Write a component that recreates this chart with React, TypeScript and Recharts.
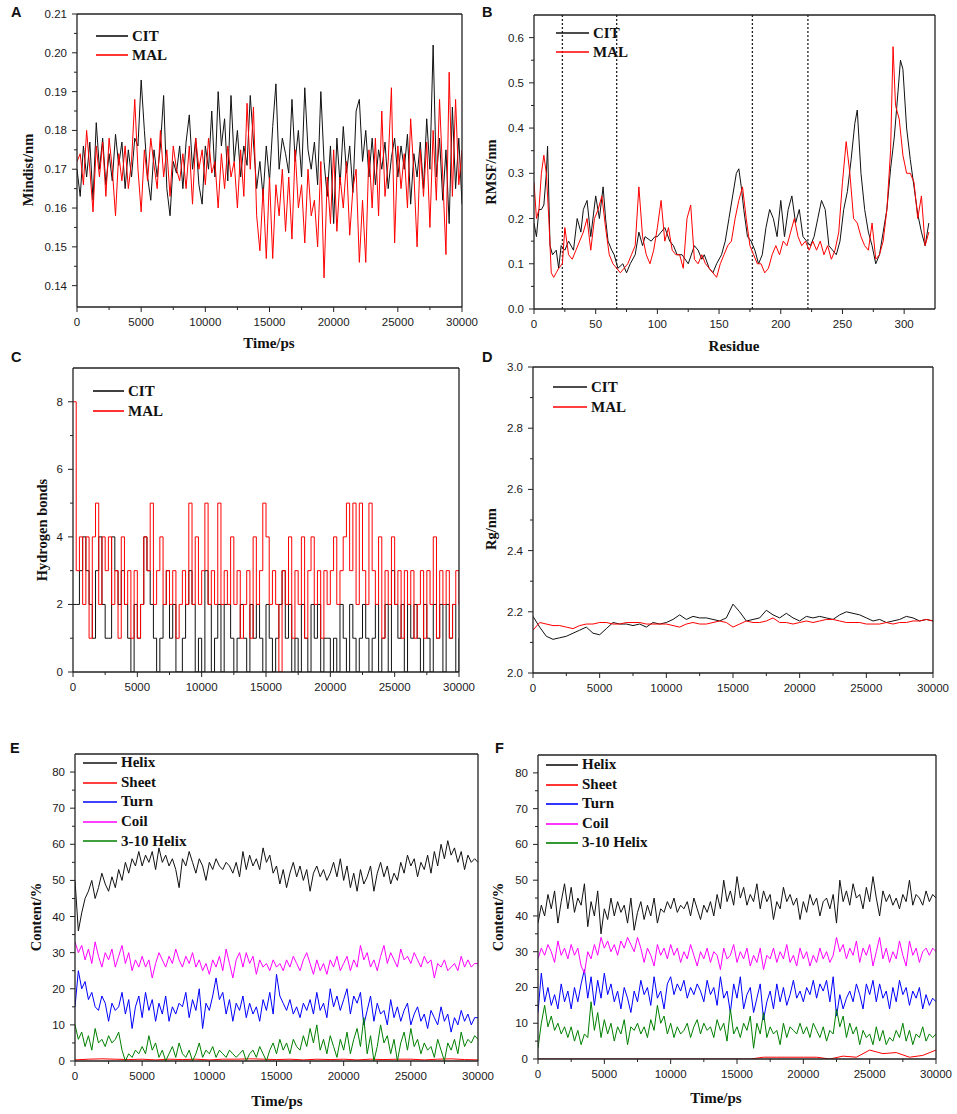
import React from 'react';
import { LineChart, Line, XAxis, YAxis, ReferenceLine, Legend } from 'recharts';

// ---------------- DATA ----------------
const STEP_PS = 250; // sampling step of the time series (ps)
const STEP_RG = 500;
const STEP_SHEET = 1000;

// Panel A: minimum distance (nm)
const mindistCIT = [
  0.170, 0.163, 0.176, 0.168, 0.177, 0.162, 0.182, 0.170, 0.178, 0.166,
  0.174, 0.167, 0.179, 0.171, 0.177, 0.165, 0.175, 0.168, 0.178, 0.176,
  0.193, 0.180, 0.168, 0.162, 0.175, 0.168, 0.176, 0.189, 0.165, 0.158,
  0.172, 0.169, 0.176, 0.165, 0.177, 0.184, 0.170, 0.178, 0.166, 0.161,
  0.176, 0.170, 0.185, 0.168, 0.190, 0.176, 0.183, 0.167, 0.189, 0.172,
  0.180, 0.168, 0.176, 0.171, 0.189, 0.177, 0.165, 0.172, 0.163, 0.176,
  0.167, 0.181, 0.192, 0.170, 0.178, 0.174, 0.169, 0.188, 0.172, 0.180,
  0.168, 0.191, 0.175, 0.170, 0.177, 0.166, 0.190, 0.172, 0.163, 0.176,
  0.156, 0.178, 0.166, 0.181, 0.169, 0.176, 0.164, 0.185, 0.188, 0.172,
  0.180, 0.168, 0.178, 0.166, 0.175, 0.170, 0.177, 0.165, 0.173, 0.178,
  0.168, 0.176, 0.170, 0.179, 0.161, 0.174, 0.168, 0.177, 0.165, 0.183,
  0.170, 0.202, 0.168, 0.178, 0.162, 0.175, 0.156, 0.186, 0.165, 0.178,
  0.161,
];
const mindistMAL = [
  0.172, 0.174, 0.166, 0.180, 0.170, 0.159, 0.176, 0.168, 0.177, 0.163,
  0.178, 0.170, 0.158, 0.174, 0.167, 0.176, 0.165, 0.172, 0.188, 0.170,
  0.159, 0.175, 0.167, 0.178, 0.171, 0.165, 0.180, 0.168, 0.175, 0.163,
  0.176, 0.170, 0.167, 0.174, 0.165, 0.176, 0.161, 0.178, 0.170, 0.175,
  0.166, 0.178, 0.169, 0.172, 0.160, 0.174, 0.165, 0.176, 0.168, 0.172,
  0.160, 0.175, 0.163, 0.187, 0.170, 0.186, 0.158, 0.149, 0.165, 0.147,
  0.168, 0.147, 0.166, 0.158, 0.170, 0.154, 0.168, 0.152, 0.175, 0.160,
  0.166, 0.151, 0.170, 0.158, 0.162, 0.150, 0.172, 0.142, 0.168, 0.156,
  0.175, 0.154, 0.168, 0.160, 0.172, 0.153, 0.165, 0.170, 0.146, 0.162,
  0.146, 0.175, 0.160, 0.178, 0.158, 0.185, 0.163, 0.172, 0.191, 0.151,
  0.176, 0.165, 0.174, 0.160, 0.183, 0.169, 0.150, 0.175, 0.163, 0.177,
  0.155, 0.180, 0.162, 0.188, 0.168, 0.148, 0.195, 0.163, 0.188, 0.166,
  0.175,
];

// Panel B: RMSF (nm) per residue
const residuesCIT = [
  0, 2, 4, 6, 8, 10, 11, 12, 13, 15, 18, 20, 22, 25, 28, 32, 35, 38, 40, 43,
  46, 50, 53, 56, 58, 60, 63, 65, 68, 72, 75, 78, 82, 85, 88, 90, 95, 98, 100, 103,
  106, 110, 113, 116, 120, 125, 130, 133, 136, 138, 142, 145, 148, 152, 155, 158, 161, 164, 166, 168,
  170, 173, 176, 179, 182, 185, 188, 191, 194, 197, 200, 203, 206, 209, 212, 215, 218, 221, 224, 227,
  230, 233, 236, 239, 242, 245, 248, 251, 254, 257, 260, 262, 265, 268, 271, 274, 277, 280, 283, 286,
  289, 292, 295, 297, 299, 302, 305, 308, 311, 314, 317, 320,
];
const rmsfCIT = [
  0.19, 0.16, 0.22, 0.22, 0.23, 0.30, 0.36, 0.25, 0.14, 0.12, 0.13, 0.09, 0.14, 0.13, 0.15, 0.13, 0.20, 0.17, 0.22, 0.24,
  0.16, 0.25, 0.20, 0.27, 0.20, 0.15, 0.13, 0.12, 0.09, 0.10, 0.08, 0.10, 0.12, 0.17, 0.14, 0.16, 0.15, 0.16, 0.16, 0.17,
  0.18, 0.15, 0.14, 0.12, 0.12, 0.10, 0.14, 0.13, 0.11, 0.12, 0.09, 0.08, 0.10, 0.12, 0.15, 0.20, 0.25, 0.30, 0.31, 0.27,
  0.22, 0.16, 0.15, 0.13, 0.10, 0.12, 0.18, 0.22, 0.20, 0.16, 0.24, 0.16, 0.22, 0.25, 0.19, 0.22, 0.16, 0.15, 0.14, 0.16,
  0.20, 0.24, 0.22, 0.14, 0.13, 0.12, 0.15, 0.22, 0.26, 0.33, 0.41, 0.44, 0.30, 0.22, 0.17, 0.14, 0.10, 0.12, 0.17, 0.22,
  0.31, 0.38, 0.48, 0.55, 0.53, 0.40, 0.33, 0.27, 0.21, 0.17, 0.14, 0.19,
];
const residuesMAL = [
  0, 2, 4, 6, 8, 10, 12, 14, 16, 18, 20, 23, 25, 28, 31, 34, 37, 40, 43, 46,
  49, 52, 55, 58, 61, 64, 67, 70, 73, 76, 79, 82, 85, 88, 91, 94, 97, 100, 103, 106,
  109, 112, 115, 118, 121, 124, 127, 130, 133, 136, 139, 142, 145, 148, 151, 154, 157, 160, 163, 166,
  169, 172, 175, 178, 181, 184, 187, 190, 193, 196, 199, 202, 205, 208, 211, 214, 217, 220, 223, 226,
  229, 232, 235, 238, 241, 244, 247, 250, 253, 256, 259, 262, 265, 268, 271, 274, 277, 280, 283, 286,
  289, 291, 293, 296, 299, 302, 305, 308, 311, 314, 317, 320,
];
const rmsfMAL = [
  0.28, 0.20, 0.22, 0.30, 0.34, 0.30, 0.20, 0.08, 0.07, 0.08, 0.09, 0.10, 0.18, 0.12, 0.11, 0.13, 0.15, 0.17, 0.20, 0.13,
  0.20, 0.22, 0.25, 0.18, 0.12, 0.10, 0.09, 0.08, 0.09, 0.10, 0.12, 0.14, 0.27, 0.16, 0.12, 0.10, 0.13, 0.18, 0.24, 0.15,
  0.18, 0.13, 0.12, 0.12, 0.09, 0.20, 0.23, 0.11, 0.10, 0.12, 0.10, 0.09, 0.08, 0.07, 0.10, 0.12, 0.14, 0.15, 0.20, 0.24,
  0.27, 0.20, 0.14, 0.12, 0.10, 0.10, 0.08, 0.09, 0.12, 0.14, 0.12, 0.15, 0.14, 0.17, 0.20, 0.16, 0.14, 0.15, 0.13, 0.15,
  0.13, 0.15, 0.12, 0.14, 0.11, 0.13, 0.17, 0.28, 0.37, 0.30, 0.20, 0.19, 0.16, 0.14, 0.13, 0.19, 0.11, 0.12, 0.15, 0.22,
  0.35, 0.58, 0.45, 0.42, 0.34, 0.30, 0.30, 0.28, 0.20, 0.25, 0.14, 0.17,
];
const domainBoundaries = [23, 67, 177, 222];

// Panel C: hydrogen bonds
const hbondCIT = [
  2, 2, 3, 4, 3, 2, 1, 3, 4, 2,
  1, 1, 4, 3, 2, 3, 2, 1, 0, 2,
  1, 2, 4, 3, 2, 1, 0, 1, 2, 3,
  1, 2, 0, 0, 1, 2, 3, 2, 0, 1,
  0, 3, 2, 0, 1, 2, 0, 2, 2, 1,
  0, 1, 2, 1, 0, 2, 1, 2, 1, 0,
  2, 1, 0, 1, 2, 3, 1, 2, 0, 1,
  0, 2, 1, 0, 2, 1, 2, 0, 1, 1,
  0, 1, 0, 2, 1, 0, 2, 1, 0, 1,
  2, 1, 0, 1, 2, 0, 1, 2, 0, 3,
  2, 1, 2, 0, 2, 1, 2, 1, 0, 2,
  1, 0, 2, 1, 2, 0, 2, 1, 2, 0,
  1,
];
const hbondMAL = [
  8, 3, 4, 2, 4, 1, 4, 5, 2, 4,
  3, 4, 2, 3, 1, 4, 2, 3, 1, 3,
  1, 2, 4, 3, 5, 2, 3, 4, 2, 3,
  2, 3, 1, 2, 3, 2, 5, 2, 4, 2,
  3, 5, 2, 3, 2, 5, 2, 3, 2, 4,
  2, 3, 1, 2, 3, 1, 4, 2, 3, 5,
  4, 2, 3, 2, 0, 3, 2, 4, 1, 3,
  2, 4, 1, 3, 4, 2, 3, 1, 3, 2,
  3, 4, 2, 3, 4, 5, 3, 5, 2, 5,
  3, 2, 5, 3, 2, 4, 1, 3, 2, 4,
  2, 3, 1, 3, 2, 3, 1, 2, 3, 1,
  3, 2, 4, 1, 3, 2, 3, 1, 2, 3,
  2,
];

// Panel D: radius of gyration (nm), every 500 ps
const rgCIT = [
  2.185, 2.150, 2.120, 2.110, 2.115, 2.120, 2.130, 2.140, 2.150, 2.130,
  2.125, 2.145, 2.165, 2.160, 2.160, 2.155, 2.160, 2.150, 2.165, 2.160,
  2.165, 2.175, 2.190, 2.175, 2.185, 2.180, 2.180, 2.175, 2.170, 2.180,
  2.225, 2.200, 2.170, 2.175, 2.180, 2.205, 2.190, 2.180, 2.195, 2.180,
  2.170, 2.185, 2.180, 2.185, 2.180, 2.175, 2.190, 2.200, 2.195, 2.190,
  2.180, 2.170, 2.175, 2.165, 2.170, 2.175, 2.185, 2.180, 2.170, 2.175,
  2.170,
];
const rgMAL = [
  2.140, 2.165, 2.160, 2.155, 2.155, 2.150, 2.145, 2.155, 2.160, 2.160,
  2.165, 2.165, 2.160, 2.160, 2.165, 2.165, 2.165, 2.160, 2.160, 2.160,
  2.160, 2.155, 2.150, 2.160, 2.165, 2.160, 2.160, 2.165, 2.170, 2.165,
  2.150, 2.160, 2.170, 2.165, 2.165, 2.170, 2.180, 2.165, 2.165, 2.160,
  2.165, 2.170, 2.165, 2.170, 2.175, 2.175, 2.170, 2.165, 2.165, 2.165,
  2.160, 2.160, 2.160, 2.165, 2.160, 2.165, 2.165, 2.170, 2.170, 2.175,
  2.170,
];

// Panel E: secondary structure content (%) – CIT
const eHelix = [
  50, 36, 41, 45, 47, 50, 45, 48, 52, 49,
  47, 51, 48, 53, 50, 55, 52, 56, 54, 58,
  54, 57, 55, 58, 53, 59, 55, 57, 54, 56,
  53, 48, 56, 54, 58, 55, 52, 56, 54, 50,
  55, 53, 56, 54, 53, 55, 54, 52, 55, 51,
  58, 53, 57, 54, 56, 53, 59, 55, 57, 52,
  54, 49, 53, 48, 52, 55, 51, 54, 50, 53,
  47, 52, 54, 51, 53, 50, 52, 55, 51, 56,
  50, 54, 48, 52, 47, 53, 49, 51, 54, 47,
  52, 55, 51, 54, 49, 52, 50, 55, 52, 57,
  54, 56, 51, 55, 53, 57, 52, 58, 54, 60,
  56, 61, 57, 59, 55, 58, 53, 57, 55, 56,
  55,
];
const eSheet = [
  0.3, 0.5, 0.6, 0.5, 0.4, 0.5, 0.3, 0.5, 0.4, 0.5,
  0.3, 0.5, 0.5, 0.6, 0.5, 0.4, 0.5, 0.3, 0.5, 0.4,
  0.5, 0.3, 0.5, 0.4, 0.5, 0.5, 0.3, 0.5, 0.6, 0.4,
  0.3,
];
const eTurn = [
  15, 25, 20, 22, 17, 19, 15, 14, 18, 16,
  11, 16, 14, 15, 19, 13, 17, 9, 15, 18,
  12, 19, 14, 17, 11, 16, 13, 18, 11, 15,
  13, 16, 15, 19, 12, 17, 14, 20, 9, 16,
  14, 18, 23, 17, 19, 13, 17, 11, 16, 14,
  18, 12, 16, 13, 15, 11, 17, 14, 19, 13,
  24, 18, 16, 14, 17, 13, 15, 12, 16, 14,
  17, 13, 19, 14, 16, 12, 20, 15, 18, 14,
  17, 20, 13, 18, 16, 19, 10, 14, 18, 11,
  16, 13, 14, 10, 17, 12, 15, 11, 14, 16,
  10, 13, 15, 11, 13, 9, 14, 12, 10, 15,
  11, 13, 8, 12, 10, 14, 11, 13, 10, 12,
  12,
];
const eCoil = [
  33, 30, 32, 28, 31, 27, 33, 29, 26, 30,
  28, 31, 26, 29, 32, 27, 30, 25, 28, 26,
  29, 26, 28, 23, 27, 30, 28, 26, 29, 27,
  31, 28, 26, 29, 27, 30, 26, 28, 25, 27,
  24, 28, 26, 29, 25, 31, 27, 23, 28, 30,
  26, 30, 27, 29, 24, 28, 26, 27, 25, 28,
  26, 27, 25, 28, 26, 29, 27, 25, 28, 30,
  27, 24, 28, 25, 27, 24, 28, 26, 29, 25,
  27, 29, 25, 28, 26, 32, 28, 30, 26, 28,
  25, 29, 32, 27, 30, 28, 26, 31, 28, 29,
  27, 30, 28, 26, 29, 27, 28, 23, 27, 26,
  28, 25, 26, 27, 25, 29, 26, 28, 26, 27,
  27,
];
const eHelix310 = [
  10, 6, 8, 4, 7, 3, 9, 5, 6, 4,
  7, 5, 6, 8, 3, 0, 2, 1, 3, 2,
  4, 2, 7, 3, 5, 1, 3, 0, 2, 4,
  1, 5, 2, 1, 3, 0, 2, 5, 1, 3,
  2, 4, 1, 3, 2, 1, 3, 2, 1, 2,
  3, 0, 2, 3, 1, 4, 2, 0, 3, 5,
  2, 6, 3, 5, 2, 6, 4, 3, 7, 4,
  9, 5, 10, 3, 6, 2, 7, 4, 1, 6,
  3, 8, 2, 6, 9, 4, 12, 2, 7, 0,
  4, 10, 5, 7, 2, 6, 0, 5, 8, 3,
  9, 4, 6, 2, 5, 3, 4, 1, 6, 3,
  0, 5, 3, 6, 2, 8, 4, 6, 5, 7,
  6,
];

// Panel F: secondary structure content (%) – MAL
const fHelix = [
  38, 43, 40, 46, 42, 47, 38, 44, 49, 42,
  48, 41, 45, 43, 49, 37, 44, 40, 47, 35,
  42, 39, 45, 40, 44, 41, 43, 38, 45, 36,
  41, 44, 39, 43, 40, 45, 38, 42, 41, 44,
  42, 45, 41, 43, 42, 44, 40, 45, 42, 39,
  43, 41, 44, 40, 46, 42, 50, 44, 47, 43,
  51, 45, 48, 43, 46, 44, 49, 42, 47, 44,
  46, 39, 44, 42, 48, 44, 46, 43, 45, 39,
  44, 41, 46, 43, 45, 40, 44, 45, 42, 46,
  38, 50, 44, 47, 43, 49, 45, 46, 42, 48,
  44, 51, 45, 40, 47, 44, 46, 43, 45, 42,
  46, 44, 50, 43, 46, 45, 43, 47, 44, 46,
  45,
];
const fSheet = [
  0, 0, 0, 0, 0, 0, 0, 0, 0, 0,
  0, 0, 0, 0, 0, 0, 0, 0.5, 0.5, 0.5,
  0.5, 0.5, 0, 0.8, 0.5, 2.5, 1.5, 1.8, 0.5, 1.0,
  2.5,
];
const fTurn = [
  13, 24, 16, 20, 15, 18, 14, 21, 16, 19,
  14, 20, 16, 21, 25, 17, 23, 15, 22, 17,
  24, 18, 21, 16, 19, 14, 20, 17, 13, 19,
  16, 22, 18, 20, 15, 23, 17, 19, 14, 21,
  23, 18, 21, 19, 22, 17, 20, 18, 21, 19,
  16, 22, 18, 20, 15, 23, 17, 19, 13, 21,
  17, 23, 14, 18, 20, 13, 17, 21, 11, 16,
  19, 14, 21, 16, 20, 15, 18, 22, 17, 19,
  16, 20, 18, 22, 17, 21, 19, 22, 16, 23,
  12, 18, 14, 17, 19, 16, 21, 18, 14, 21,
  18, 22, 16, 21, 17, 19, 14, 20, 16, 22,
  18, 20, 15, 19, 17, 20, 14, 18, 15, 17,
  16,
];
const fCoil = [
  28, 31, 29, 32, 30, 27, 33, 29, 31, 28,
  32, 29, 31, 26, 24, 30, 28, 32, 29, 34,
  31, 33, 30, 32, 29, 33, 31, 34, 32, 30,
  34, 31, 27, 31, 29, 26, 32, 29, 31, 28,
  32, 29, 31, 27, 30, 28, 32, 29, 26, 30,
  28, 31, 27, 30, 29, 25, 31, 28, 29, 32,
  27, 30, 28, 31, 26, 29, 27, 31, 25, 29,
  28, 31, 27, 30, 28, 32, 27, 29, 26, 31,
  28, 30, 26, 29, 27, 31, 28, 30, 27, 29,
  34, 30, 32, 28, 31, 29, 33, 27, 31, 29,
  32, 26, 30, 34, 28, 31, 27, 30, 28, 33,
  29, 26, 33, 29, 31, 27, 30, 31, 29, 31,
  30,
];
const fHelix310 = [
  3, 10, 15, 9, 12, 8, 10, 7, 9, 6,
  9, 5, 8, 4, 7, 6, 16, 8, 13, 6,
  11, 7, 10, 5, 9, 7, 11, 4, 9, 8,
  10, 7, 9, 6, 11, 8, 15, 10, 12, 7,
  10, 6, 9, 7, 8, 10, 6, 9, 11, 7,
  10, 8, 9, 6, 11, 8, 10, 5, 14, 7,
  9, 6, 10, 8, 12, 3, 10, 7, 13, 6,
  9, 7, 8, 4, 10, 6, 9, 8, 7, 10,
  7, 9, 6, 10, 8, 6, 9, 5, 8, 7,
  14, 9, 12, 6, 10, 7, 9, 4, 8, 6,
  7, 4, 9, 5, 8, 4, 6, 5, 8, 6,
  10, 5, 8, 4, 7, 6, 9, 5, 7, 6,
  7,
];

// Tick values
const timeMajor = [0, 5000, 10000, 15000, 20000, 25000, 30000];
const timeMinor = [2500, 7500, 12500, 17500, 22500, 27500];
const aYMajor = [0.14, 0.15, 0.16, 0.17, 0.18, 0.19, 0.2, 0.21];
const aYMinor = [0.145, 0.155, 0.165, 0.175, 0.185, 0.195, 0.205];
const bXMajor = [0, 50, 100, 150, 200, 250, 300];
const bXMinor = [25, 75, 125, 175, 225, 275];
const bYMajor = [0, 0.1, 0.2, 0.3, 0.4, 0.5, 0.6];
const bYMinor = [0.05, 0.15, 0.25, 0.35, 0.45, 0.55];
const cYMajor = [0, 2, 4, 6, 8];
const cYMinor = [1, 3, 5, 7];
const dYMajor = [2.0, 2.2, 2.4, 2.6, 2.8, 3.0];
const dYMinor = [2.1, 2.3, 2.5, 2.7, 2.9];
const efYMajor = [0, 10, 20, 30, 40, 50, 60, 70, 80];
const efYMinor = [5, 15, 25, 35, 45, 55, 65, 75];

// ---------------- HELPERS ----------------
type Pt = { x: number; y: number };
const series = (vals: number[], step: number): Pt[] => vals.map((v, i) => ({ x: i * step, y: v }));
const pairs = (xs: number[], ys: number[]): Pt[] => xs.map((x, i) => ({ x, y: ys[i] }));

const BLACK = '#111111';
const RED = '#ff0000';
const BLUE = '#0000ff';
const MAGENTA = '#ff00ff';
const GREEN = '#008000';
const AXIS = '#222222';
const SANS = "'Liberation Sans', Arial, Helvetica, sans-serif";
const SERIF = "'Liberation Serif', 'Times New Roman', serif";

const isIn = (arr: number[], v: number) => arr.some((m) => Math.abs(m - v) < 1e-9);

type S = { name: string; color: string; data: Pt[]; curve?: 'linear' | 'stepAfter' };
type PanelProps = {
  plot: { l: number; t: number; r: number; b: number };
  xDomain: [number, number];
  xMajor: number[];
  xMinor: number[];
  xFmt: (v: number) => string;
  yDomain: [number, number];
  yMajor: number[];
  yMinor: number[];
  yFmt: (v: number) => string;
  series: S[];
  yTitle: { text: string; cx: number; cy: number };
  xTitle?: { text: string; cx: number; cy: number };
  legend: { x: number; y: number; len: number; row: number };
  vlines?: number[];
};

const ML = 72;
const MR = 34;
const MT = 20;
const MB = 52;

function Panel(p: PanelProps) {
  const left = p.plot.l - ML;
  const top = p.plot.t - MT;
  const w = p.plot.r - p.plot.l + ML + MR;
  const h = p.plot.b - p.plot.t + MT + MB;

  const xTick = (props: any) => {
    const { x, y, payload } = props;
    const v = payload.value;
    const major = isIn(p.xMajor, v);
    return (
      <g>
        <line x1={x} x2={x} y1={y} y2={y + (major ? 5 : 3)} stroke={AXIS} strokeWidth={1} />
        {major ? (
          <text x={x} y={y + 19} textAnchor="middle" fontSize={11.5} fontFamily={SANS} fill="#1a1a1a">
            {p.xFmt(v)}
          </text>
        ) : null}
      </g>
    );
  };
  const yTick = (props: any) => {
    const { x, y, payload } = props;
    const v = payload.value;
    const major = isIn(p.yMajor, v);
    return (
      <g>
        <line x1={x} x2={x - (major ? 5 : 3)} y1={y} y2={y} stroke={AXIS} strokeWidth={1} />
        {major ? (
          <text x={x - 10} y={y + 4} textAnchor="end" fontSize={11.5} fontFamily={SANS} fill="#1a1a1a">
            {p.yFmt(v)}
          </text>
        ) : null}
      </g>
    );
  };

  const yLabel = () => (
    <text
      transform={`translate(${p.yTitle.cx - left},${p.yTitle.cy - top}) rotate(-90)`}
      textAnchor="middle"
      dominantBaseline="central"
      fontFamily={SERIF}
      fontWeight="bold"
      fontSize={14.5}
      fill="#111"
    >
      {p.yTitle.text}
    </text>
  );
  const xLabel = () =>
    p.xTitle ? (
      <text
        x={p.xTitle.cx - left}
        y={p.xTitle.cy - top}
        textAnchor="middle"
        dominantBaseline="central"
        fontFamily={SERIF}
        fontWeight="bold"
        fontSize={15}
        fill="#111"
      >
        {p.xTitle.text}
      </text>
    ) : (
      <g />
    );

  const legendContent = () => (
    <div>
      {p.series.map((e, i) => (
        <div key={i} style={{ display: 'flex', alignItems: 'center', height: p.legend.row }}>
          <svg width={p.legend.len} height={6} style={{ display: 'block' }}>
            <line x1={0} y1={3} x2={p.legend.len} y2={3} stroke={e.color} strokeWidth={1.6} />
          </svg>
          <span
            style={{
              marginLeft: 4,
              fontFamily: SERIF,
              fontWeight: 'bold',
              fontSize: 15,
              lineHeight: `${p.legend.row}px`,
              color: '#111',
              whiteSpace: 'nowrap',
            }}
          >
            {e.name}
          </span>
        </div>
      ))}
    </div>
  );

  const axisLine = { stroke: AXIS, strokeWidth: 1.3 };

  return (
    <div style={{ position: 'absolute', left, top, width: w, height: h }}>
      <LineChart width={w} height={h} margin={{ top: MT, right: MR, left: 0, bottom: 0 }}>
        <XAxis
          xAxisId="b"
          type="number"
          dataKey="x"
          domain={p.xDomain}
          allowDataOverflow
          ticks={[...p.xMajor, ...p.xMinor].sort((a, b) => a - b)}
          interval={0}
          tickSize={0}
          tickMargin={0}
          tickLine={false}
          tick={xTick}
          axisLine={axisLine}
          height={MB}
          label={{ content: xLabel }}
        />
        <YAxis
          yAxisId="l"
          type="number"
          domain={p.yDomain}
          allowDataOverflow
          ticks={[...p.yMajor, ...p.yMinor].sort((a, b) => a - b)}
          interval={0}
          tickSize={0}
          tickMargin={0}
          tickLine={false}
          tick={yTick}
          axisLine={axisLine}
          width={ML}
          label={{ content: yLabel }}
        />
        {(p.vlines || []).map((v) => (
          <ReferenceLine
            key={v}
            x={v}
            xAxisId="b"
            yAxisId="l"
            stroke={AXIS}
            strokeWidth={1.3}
            strokeDasharray="2 2"
          />
        ))}
        {p.series.map((s) => (
          <Line
            key={s.name}
            xAxisId="b"
            yAxisId="l"
            data={s.data}
            dataKey="y"
            name={s.name}
            type={s.curve || 'linear'}
            stroke={s.color}
            strokeWidth={1}
            dot={false}
            activeDot={false}
            isAnimationActive={false}
          />
        ))}
        {/* frame: top and right edges of the plot box */}
        <ReferenceLine y={p.yDomain[1]} xAxisId="b" yAxisId="l" stroke={AXIS} strokeWidth={1.3} />
        <ReferenceLine x={p.xDomain[1]} xAxisId="b" yAxisId="l" stroke={AXIS} strokeWidth={1.3} />
        <Legend
          layout="vertical"
          align="center"
          verticalAlign="middle"
          content={legendContent}
          wrapperStyle={{
            left: p.legend.x - left,
            top: p.legend.y - p.legend.row / 2 - top,
            width: 'auto',
            height: 'auto',
          }}
        />
      </LineChart>
    </div>
  );
}

const f2 = (v: number) => v.toFixed(2);
const f1 = (v: number) => v.toFixed(1);
const f0 = (v: number) => String(Math.round(v));

const panelLetters = [
  { t: 'A', x: 11, y: 17 },
  { t: 'B', x: 482, y: 17 },
  { t: 'C', x: 11, y: 362 },
  { t: 'D', x: 482, y: 362 },
  { t: 'E', x: 10, y: 753 },
  { t: 'F', x: 495, y: 753 },
];

export default function App() {
  return (
    <div
      style={{
        position: 'absolute',
        left: 0,
        top: 0,
        width: 957,
        height: 1114,
        background: '#ffffff',
        overflow: 'hidden',
      }}
    >
      {/* A */}
      <Panel
        plot={{ l: 77, t: 14, r: 462, b: 307 }}
        xDomain={[0, 30000]}
        xMajor={timeMajor}
        xMinor={timeMinor}
        xFmt={f0}
        yDomain={[0.1345, 0.21]}
        yMajor={aYMajor}
        yMinor={aYMinor}
        yFmt={f2}
        series={[
          { name: 'CIT', color: BLACK, data: series(mindistCIT, STEP_PS) },
          { name: 'MAL', color: RED, data: series(mindistMAL, STEP_PS) },
        ]}
        yTitle={{ text: 'Mindist/nm', cx: 28, cy: 170 }}
        xTitle={{ text: 'Time/ps', cx: 269, cy: 343 }}
        legend={{ x: 96, y: 36, len: 32, row: 19 }}
      />
      {/* B */}
      <Panel
        plot={{ l: 534, t: 15, r: 935, b: 309 }}
        xDomain={[0, 325]}
        xMajor={bXMajor}
        xMinor={bXMinor}
        xFmt={f0}
        yDomain={[0, 0.65]}
        yMajor={bYMajor}
        yMinor={bYMinor}
        yFmt={f1}
        series={[
          { name: 'CIT', color: BLACK, data: pairs(residuesCIT, rmsfCIT) },
          { name: 'MAL', color: RED, data: pairs(residuesMAL, rmsfMAL) },
        ]}
        yTitle={{ text: 'RMSF/nm', cx: 491, cy: 172 }}
        xTitle={{ text: 'Residue', cx: 734, cy: 346 }}
        legend={{ x: 556, y: 33, len: 33, row: 19 }}
        vlines={domainBoundaries}
      />
      {/* C */}
      <Panel
        plot={{ l: 73, t: 368, r: 459, b: 672 }}
        xDomain={[0, 30000]}
        xMajor={timeMajor}
        xMinor={timeMinor}
        xFmt={f0}
        yDomain={[0, 9]}
        yMajor={cYMajor}
        yMinor={cYMinor}
        yFmt={f0}
        series={[
          { name: 'CIT', color: BLACK, data: series(hbondCIT, STEP_PS), curve: 'stepAfter' },
          { name: 'MAL', color: RED, data: series(hbondMAL, STEP_PS), curve: 'stepAfter' },
        ]}
        yTitle={{ text: 'Hydrogen bonds', cx: 42, cy: 530 }}
        legend={{ x: 93, y: 391, len: 31, row: 20 }}
      />
      {/* D */}
      <Panel
        plot={{ l: 533, t: 367, r: 933, b: 673 }}
        xDomain={[0, 30000]}
        xMajor={timeMajor}
        xMinor={timeMinor}
        xFmt={f0}
        yDomain={[2.0, 3.0]}
        yMajor={dYMajor}
        yMinor={dYMinor}
        yFmt={f1}
        series={[
          { name: 'CIT', color: BLACK, data: series(rgCIT, STEP_RG) },
          { name: 'MAL', color: RED, data: series(rgMAL, STEP_RG) },
        ]}
        yTitle={{ text: 'Rg/nm', cx: 491, cy: 529 }}
        legend={{ x: 553, y: 387, len: 34, row: 20 }}
      />
      {/* E */}
      <Panel
        plot={{ l: 75, t: 754, r: 478, b: 1061 }}
        xDomain={[0, 30000]}
        xMajor={timeMajor}
        xMinor={timeMinor}
        xFmt={f0}
        yDomain={[0, 85]}
        yMajor={efYMajor}
        yMinor={efYMinor}
        yFmt={f0}
        series={[
          { name: 'Helix', color: BLACK, data: series(eHelix, STEP_PS) },
          { name: 'Sheet', color: RED, data: series(eSheet, STEP_SHEET) },
          { name: 'Turn', color: BLUE, data: series(eTurn, STEP_PS) },
          { name: 'Coil', color: MAGENTA, data: series(eCoil, STEP_PS) },
          { name: '3-10 Helix', color: GREEN, data: series(eHelix310, STEP_PS) },
        ]}
        yTitle={{ text: 'Content/%', cx: 36, cy: 917 }}
        xTitle={{ text: 'Time/ps', cx: 277, cy: 1101 }}
        legend={{ x: 83, y: 763, len: 34, row: 19.6 }}
      />
      {/* F */}
      <Panel
        plot={{ l: 538, t: 755, r: 936, b: 1059 }}
        xDomain={[0, 30000]}
        xMajor={timeMajor}
        xMinor={timeMinor}
        xFmt={f0}
        yDomain={[0, 85]}
        yMajor={efYMajor}
        yMinor={efYMinor}
        yFmt={f0}
        series={[
          { name: 'Helix', color: BLACK, data: series(fHelix, STEP_PS) },
          { name: 'Sheet', color: RED, data: series(fSheet, STEP_SHEET) },
          { name: 'Turn', color: BLUE, data: series(fTurn, STEP_PS) },
          { name: 'Coil', color: MAGENTA, data: series(fCoil, STEP_PS) },
          { name: '3-10 Helix', color: GREEN, data: series(fHelix310, STEP_PS) },
        ]}
        yTitle={{ text: 'Content/%', cx: 498, cy: 917 }}
        xTitle={{ text: 'Time/ps', cx: 716, cy: 1098 }}
        legend={{ x: 546, y: 765, len: 32, row: 19.5 }}
      />
      <svg
        width={957}
        height={1114}
        style={{ position: 'absolute', left: 0, top: 0, pointerEvents: 'none' }}
      >
        {panelLetters.map((l) => (
          <text key={l.t} x={l.x} y={l.y} fontFamily={SANS} fontWeight="bold" fontSize={14.5} fill="#111">
            {l.t}
          </text>
        ))}
      </svg>
    </div>
  );
}
